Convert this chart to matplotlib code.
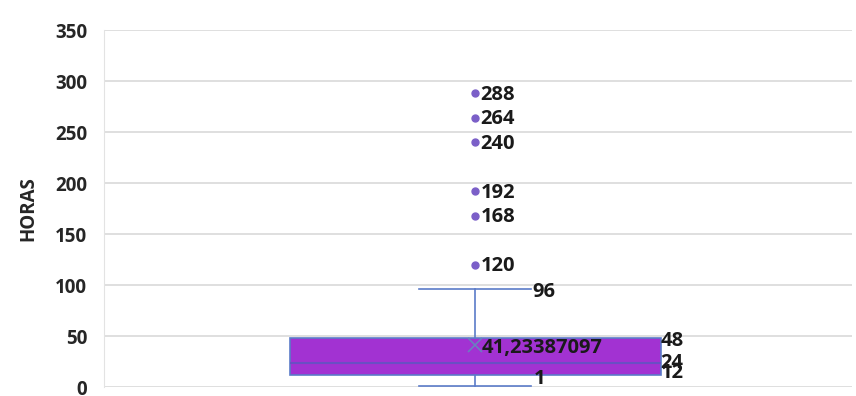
import matplotlib
matplotlib.use("Agg")
import matplotlib.pyplot as plt

# Data
whisker_low = 1
q1 = 12
median = 24
q3 = 48
whisker_high = 96
mean = 41.23387097
outliers = [120, 168, 192, 240, 264, 288]
y_ticks = [0, 50, 100, 150, 200, 250, 300, 350]
y_label = "HORAS"
mean_label = "41,23387097"

plt.rcParams['font.family'] = ['Open Sans', 'DejaVu Sans']
plt.rcParams['font.weight'] = 'bold'

fig = plt.figure(figsize=(8.56, 3.96), dpi=100)
ax = fig.add_axes([0.1215, 0.0227, 0.8738, 0.9013])

stats = [dict(whislo=whisker_low, q1=q1, med=median, q3=q3, whishi=whisker_high,
              mean=mean, fliers=outliers)]
edge = '#5B7BC8'
ax.bxp(stats, positions=[1], widths=1.0, capwidths=0.3, showmeans=True,
       patch_artist=True,
       boxprops=dict(facecolor='#A232D2', edgecolor=edge, linewidth=1.2),
       medianprops=dict(color='#6A4EC4', linewidth=1.5),
       whiskerprops=dict(color=edge, linewidth=1.2),
       capprops=dict(color=edge, linewidth=1.2),
       meanprops=dict(marker='x', markeredgecolor='#6A7FC0', markersize=10, markeredgewidth=1.2),
       flierprops=dict(marker='o', markerfacecolor='#7B5FC8', markeredgecolor='#7B5FC8', markersize=5))

ax.set_xlim(0, 2.016)
ax.set_ylim(0, 350)
ax.set_yticks(y_ticks)
ax.set_yticklabels([str(t) for t in y_ticks], fontsize=13.5, fontweight='bold', color='#262626')
ax.tick_params(axis='y', length=0, pad=12)
ax.set_xticks([])
ax.grid(axis='y', color='#D9D9D9', linewidth=1.2)
ax.set_axisbelow(True)
for s in ['top', 'right', 'bottom']:
    ax.spines[s].set_visible(False)
ax.spines['left'].set_color('#E3E3E3')
ax.set_ylabel(y_label, fontsize=13.5, fontweight='bold', color='#262626', labelpad=12)

fs = 14.5
tc = '#1A1A1A'
for v in outliers:
    ax.annotate(str(v), (1, v), xytext=(4, -1), textcoords='offset points',
                va='center', ha='left', fontsize=fs, fontweight='bold', color=tc)
ax.annotate(str(whisker_high), (1.15, whisker_high), xytext=(1, -2), textcoords='offset points',
            va='center', ha='left', fontsize=fs, fontweight='bold', color=tc)
ax.annotate(str(whisker_low), (1.15, whisker_low), xytext=(2, 5), textcoords='offset points',
            va='center', ha='left', fontsize=fs, fontweight='bold', color=tc)
ax.annotate(str(q3), (1.5, q3), xytext=(0, -2), textcoords='offset points',
            va='center', ha='left', fontsize=fs, fontweight='bold', color=tc)
ax.annotate(str(median), (1.5, median), xytext=(0, 0), textcoords='offset points',
            va='center', ha='left', fontsize=fs, fontweight='bold', color=tc)
ax.annotate(str(q1), (1.5, q1), xytext=(0, 1), textcoords='offset points',
            va='center', ha='left', fontsize=fs, fontweight='bold', color=tc)
ax.annotate(mean_label, (1, mean), xytext=(5, -2), textcoords='offset points',
            va='center', ha='left', fontsize=fs, fontweight='bold', color=tc)

fig.savefig('out.png', dpi=100, facecolor='white')
